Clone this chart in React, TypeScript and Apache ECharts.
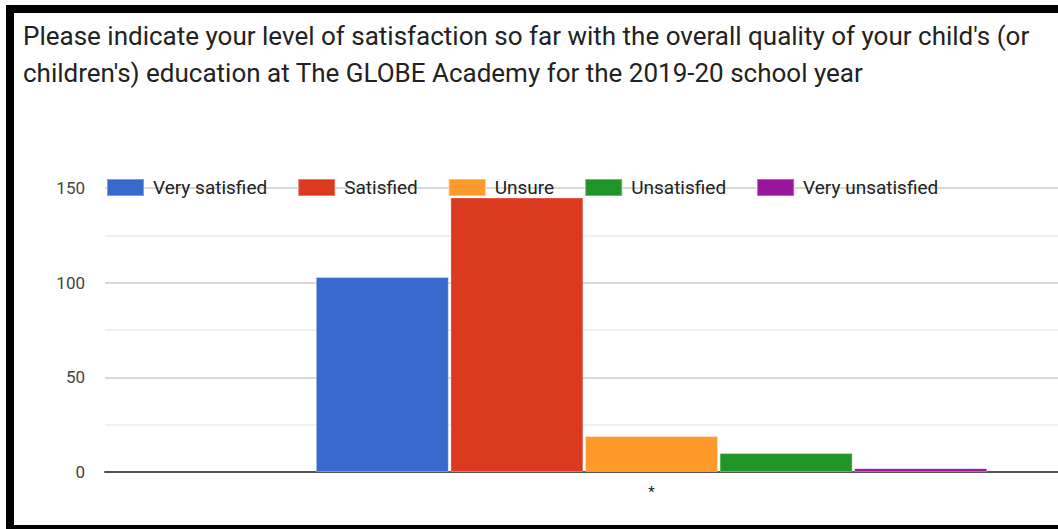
import React, { useEffect, useRef } from "react";
import * as echarts from "echarts";

const titleLines = [
  "Please indicate your level of satisfaction so far with the overall quality of your child's (or",
  "children's) education at The GLOBE Academy for the 2019-20 school year",
];
const categories = ["*"];
const seriesNames = ["Very satisfied", "Satisfied", "Unsure", "Unsatisfied", "Very unsatisfied"];
const seriesValues = [103, 145, 19, 10, 2];
const seriesColors = ["#3869cc", "#db3a21", "#fe9a29", "#1f9627", "#991599"];
const yTicks = [0, 50, 100, 150];

export default function App() {
  const ref = useRef<HTMLDivElement>(null);
  useEffect(() => {
    if (!ref.current) return;
    const chart = echarts.init(ref.current, null, { renderer: "svg" });
    chart.setOption({
      animation: false,
      backgroundColor: "#ffffff",
      textStyle: { fontFamily: "Roboto" },
      title: {
        text: titleLines.join("\n"),
        left: 23,
        top: 17,
        padding: 0,
        textStyle: {
          fontFamily: "Roboto",
          fontSize: 26,
          fontWeight: "normal",
          color: "#222222",
          lineHeight: 37,
        },
      },
      legend: {
        left: 106,
        top: 178,
        padding: 0,
        itemWidth: 37,
        itemHeight: 17,
        itemGap: 30,
        icon: "rect",
        textStyle: {
          fontFamily: "Roboto",
          fontSize: 19,
          lineHeight: 17,
          color: "#222222",
          padding: [0, 0, 0, 4],
        },
        data: seriesNames,
      },
      grid: {
        left: 105,
        top: 188,
        width: 1093,
        bottom: 57,
        containLabel: false,
        outerBoundsMode: "none",
      },
      xAxis: {
        type: "category",
        data: categories,
        axisLine: { show: true, lineStyle: { color: "#555555", width: 2 } },
        axisTick: { show: false },
        axisLabel: { color: "#222222", fontSize: 15, margin: 12 },
      },
      yAxis: {
        type: "value",
        min: 0,
        max: yTicks[yTicks.length - 1],
        interval: 50,
        axisLine: { show: false },
        axisTick: { show: false },
        axisLabel: { color: "#444444", fontSize: 17, margin: 20 },
        splitLine: { show: true, lineStyle: { color: "#cccccc", width: 1.5 } },
        minorTick: { show: false, splitNumber: 2 },
        minorSplitLine: { show: true, lineStyle: { color: "#ebebeb", width: 1.5 } },
      },
      series: seriesNames.map((name, i) => ({
        name,
        type: "bar",
        data: [seriesValues[i]],
        barWidth: 133,
        barGap: "1.2%",
        itemStyle: {
          color: seriesColors[i],
          borderColor: "rgba(255,255,255,0.35)",
          borderWidth: 1,
        },
      })),
      graphic: [
        { type: "rect", shape: { x: 6, y: 5, width: 8, height: 524 }, style: { fill: "#000" }, z: 100 },
        { type: "rect", shape: { x: 6, y: 5, width: 1052, height: 8 }, style: { fill: "#000" }, z: 100 },
        { type: "rect", shape: { x: 6, y: 525, width: 1052, height: 4 }, style: { fill: "#000" }, z: 100 },
      ],
    });
    return () => chart.dispose();
  }, []);
  return (
    <div
      ref={ref}
      style={{ position: "fixed", left: 0, top: 0, width: 1058, height: 529 }}
    />
  );
}
